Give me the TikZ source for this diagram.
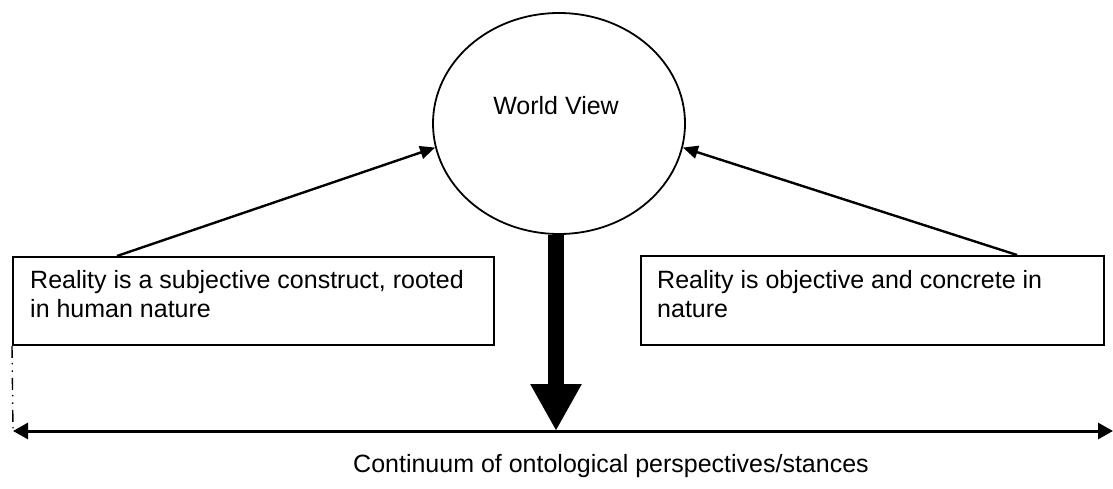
\documentclass[tikz,border=0pt]{standalone}
\usepackage{fontspec}
\setmainfont{Liberation Sans}
\usetikzlibrary{shapes.geometric,arrows.meta}
\begin{document}
\begin{tikzpicture}[x=1pt,y=-1pt,
  boxstyle/.style={draw, line width=1.8pt, rectangle, inner sep=0pt},
  txt/.style={font=\fontsize{25}{29}\selectfont, anchor=base west, inner sep=0pt, align=left},
  thin arrow/.style={line width=2.4pt, -{Triangle[length=15pt,width=13pt]}},
]
\useasboundingbox (0,0) rectangle (1113,489);
% world view ellipse
\node[draw, ellipse, line width=1.8pt, minimum width=252pt, minimum height=221pt, inner sep=0pt] (wv) at (559,123.5) {};
\node[font=\fontsize{25}{29}\selectfont, anchor=base, inner sep=0pt] (wvlabel) at (556,115) {World View};
% boxes
\node[boxstyle, minimum width=481pt, minimum height=88pt, anchor=north west] (lbox) at (12,256) {};
\node[boxstyle, minimum width=463pt, minimum height=89pt, anchor=north west] (rbox) at (640,255) {};
\node[txt] (ltext) at (30,317) {Reality is a subjective construct, rooted\\in human nature};
\node[txt] (rtext) at (657,317) {Reality is objective and concrete in\\nature};
% connectors from boxes to the world view
\coordinate (ls) at (117,256);
\coordinate (rs) at (1017,255);
\draw[thin arrow] (ls) -- (wv.191);
\draw[thin arrow] (rs) -- (wv.-11);
% continuum
\coordinate (cl) at (13,431);
\coordinate (cr) at (1113,431);
\coordinate (cm) at (556,431);
\draw[line width=3pt, {Triangle[length=15pt,width=16pt]}-{Triangle[length=15pt,width=16pt]}] (cl) -- (cr);
% thick arrow
\draw[line width=16pt, -{Triangle[length=47pt,width=48pt]}] (wv.south) ++(-3,0) coordinate (ts) (ts) -- (cm);
% dash-dot vertical line
\draw[line width=1.4pt, dash pattern=on 12pt off 5pt on 1.5pt off 6pt on 1.5pt off 6pt] (lbox.south west) -- (cl);
% caption
\node[txt] (caption) at (353,472) {Continuum of ontological perspectives/stances};
\end{tikzpicture}
\end{document}
